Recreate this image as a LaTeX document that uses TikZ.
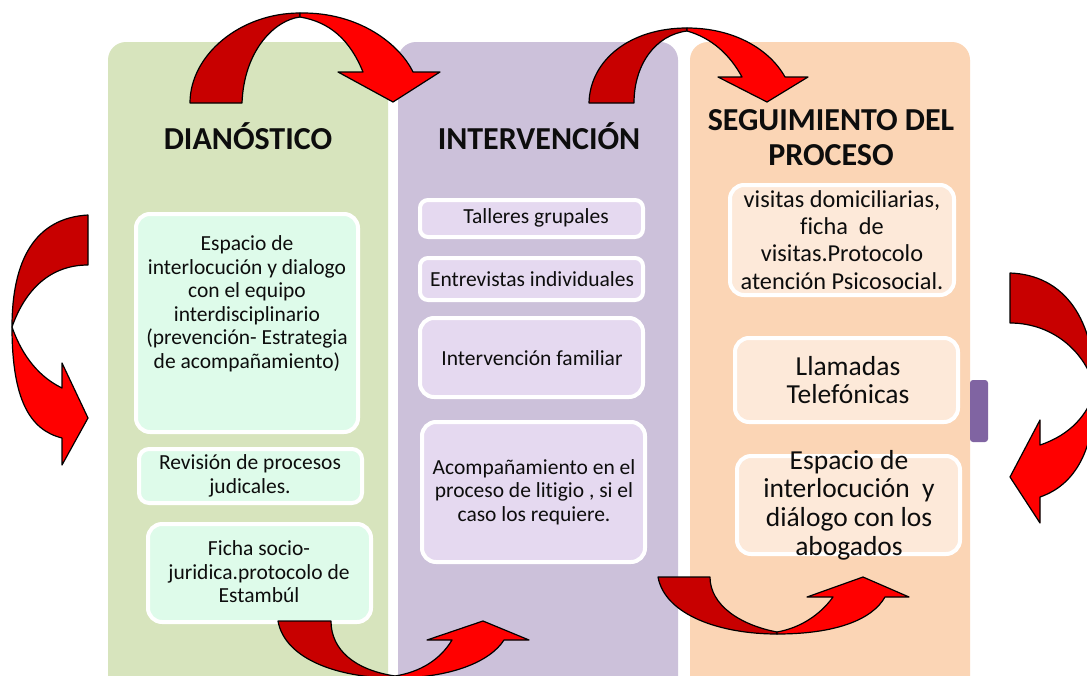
\documentclass[tikz,border=0pt]{standalone}
\usepackage{fontspec}
\setmainfont{Carlito}[Ligatures=NoCommon]
\definecolor{colgreen}{HTML}{D7E4BD}
\definecolor{colpurple}{HTML}{CCC1DA}
\definecolor{colorange}{HTML}{FBD5B5}
\definecolor{boxgreen}{HTML}{DEFBEA}
\definecolor{boxpurple}{HTML}{E5D9F0}
\definecolor{boxorange}{HTML}{FDE9D9}
\definecolor{tabpurple}{HTML}{8064A2}
\definecolor{arrowdark}{HTML}{C80000}
\definecolor{arrowbright}{HTML}{FF0000}
\definecolor{txtcol}{HTML}{0D0D0D}
\begin{document}
\begin{tikzpicture}[x=1pt,y=-1pt,
  colbox/.style={rounded corners=18pt, minimum width=280pt, minimum height=700pt, inner sep=0pt, draw=none},
  itembox/.style={draw=white, line width=4pt, rounded corners=14pt, inner sep=0pt},
  smallbox/.style={itembox, rounded corners=8pt},
  txt/.style={align=center, font=\fontsize{21.5}{23.5}\selectfont, text=txtcol, inner sep=0pt},
  rtxt/.style={align=center, font=\fontsize{24.3}{27.3}\selectfont, text=txtcol, inner sep=0pt},
  btxt/.style={align=center, font=\fontsize{27.5}{28.7}\selectfont, text=txtcol, inner sep=0pt},
  head/.style={align=center, font=\bfseries\fontsize{32}{35}\selectfont, text=txtcol, inner sep=0pt},
  darkpart/.style={fill=arrowdark, draw=black, line width=1.2pt, line join=round},
  brightpart/.style={fill=arrowbright, draw=black, line width=1.2pt, line join=round}]
\useasboundingbox (0,0) rectangle (1087,675);
\clip (0,0) rectangle (1087,675);
\fill[white] (0,0) rectangle (1087,675);

% columns
\node[colbox, fill=colgreen] (cg) at (248,392) {};
\node[colbox, fill=colpurple] (cp) at (538,392) {};
\node[colbox, fill=colorange] (co) at (830,392) {};
\node[fill=tabpurple, rounded corners=3pt, minimum width=18pt, minimum height=62pt, inner sep=0pt] (tab) at (979,411) {};

% headings
\node[head] (h1) at (248,136) {DIANÓSTICO};
\node[head] (h2) at (539,136) {INTERVENCIÓN};
\node[head] (h3) at (831,138) {SEGUIMIENTO DEL\\PROCESO};

% left column boxes
\node[itembox, fill=boxgreen, minimum width=222pt, minimum height=218pt] (b1) at (247,323) {};
\node[txt] (t1) at (247,304) {Espacio de\\interlocución y dialogo\\con el equipo\\interdisciplinario\\(prevención- Estrategia\\de acompañamiento)};
\node[itembox, fill=boxgreen, rounded corners=10pt, minimum width=223pt, minimum height=54pt] (b2) at (250.5,476) {};
\node[txt] (t2) at (250,476) {Revisión de procesos\\judicales.};
\node[itembox, fill=boxgreen, minimum width=223pt, minimum height=98pt] (b3) at (259.5,573) {};
\node[txt] (t3) at (259,572) {Ficha socio-\\juridica.protocolo de\\Estambúl};

% middle column boxes
\node[smallbox, fill=boxpurple, minimum width=223pt, minimum height=37pt] (m1) at (531.5,218.5) {};
\node[txt] (u1) at (536,218) {Talleres grupales};
\node[smallbox, fill=boxpurple, minimum width=223pt, minimum height=42pt] (m2) at (531.5,279) {};
\node[txt] (u2) at (532,279) {Entrevistas individuales};
\node[itembox, fill=boxpurple, minimum width=223pt, minimum height=79pt] (m3) at (531.5,357.5) {};
\node[txt] (u3) at (532,358) {Intervención familiar};
\node[itembox, fill=boxpurple, minimum width=223pt, minimum height=140pt] (m4) at (533.5,492) {};
\node[txt] (u4) at (534,492) {Acompañamiento en el\\proceso de litigio , si el\\caso los requiere.};

% right column boxes
\node[itembox, fill=boxorange, minimum width=224pt, minimum height=110pt] (r1) at (842,240) {};
\node[rtxt] (v1) at (842,240) {visitas domiciliarias,\\ficha\ \ de\\visitas.Protocolo\\atención Psicosocial.};
\node[itembox, fill=boxorange, minimum width=223pt, minimum height=84pt] (r2) at (846.5,380) {};
\node[btxt] (v2) at (848,380) {Llamadas\\Telefónicas};
\node[itembox, fill=boxorange, minimum width=223pt, minimum height=98pt] (r3) at (848.5,505) {};
\node[btxt] (v3) at (849,505) {Espacio de\\interlocución\ \ y\\diálogo con los\\abogados};

% arrow 1 (top left)
\path[darkpart] (190,103) .. controls (190,55) and (240,13) .. (300,13) -- (300,17) .. controls (275,20) and (244,50) .. (242,103) -- cycle;
\path[brightpart] (300,13) .. controls (360,12) and (400,45) .. (413,72) -- (440,72) -- (393,102) -- (338,72) -- (363,72) .. controls (350,40) and (330,22) .. (300,17) -- cycle;
% arrow 2 (top middle)
\path[darkpart] (589,103) .. controls (590,60) and (630,28) .. (687,28) -- (687,31) .. controls (655,35) and (634,65) .. (634,103) -- cycle;
\path[brightpart] (687,28) .. controls (735,28) and (770,50) .. (785,77) -- (808,77) -- (767,102) -- (718,77) -- (742,77) .. controls (730,55) and (712,38) .. (687,31) -- cycle;
% arrow 3 (left)
\path[darkpart] (88,215) .. controls (35,218) and (12,260) .. (12,327) .. controls (25,290) and (50,265) .. (88,265) -- cycle;
\path[brightpart] (12,327) .. controls (12,400) and (30,430) .. (62,438) -- (62,465) -- (88,418) -- (62,363) -- (62,388) .. controls (35,375) and (20,350) .. (12,327) -- cycle;
% arrow 4 (right)
\path[darkpart] (1010,273) .. controls (1065,275) and (1095,320) .. (1095,390) .. controls (1088,355) and (1055,323) .. (1010,323) -- cycle;
\path[brightpart] (1095,390) .. controls (1095,450) and (1075,485) .. (1040,497) -- (1040,523) -- (1010,477) -- (1040,420) -- (1040,445) .. controls (1070,435) and (1088,415) .. (1095,390) -- cycle;
% arrow 5 (bottom left)
\path[darkpart] (278,621) .. controls (285,660) and (340,678) .. (395,678) -- (395,676) .. controls (355,670) and (331,650) .. (331,621) -- cycle;
\path[brightpart] (395,678) .. controls (450,678) and (490,662) .. (504,640) -- (529,640) -- (483,621) -- (427,640) -- (452,640) .. controls (440,660) and (420,672) .. (395,676) -- cycle;
% arrow 6 (bottom right)
\path[darkpart] (658,577) .. controls (665,615) and (720,634) .. (777,634) -- (777,632) .. controls (740,625) and (710,605) .. (710,577) -- cycle;
\path[brightpart] (777,634) .. controls (835,634) and (872,620) .. (885,597) -- (909,597) -- (863,577) -- (807,597) -- (833,597) .. controls (820,615) and (800,628) .. (777,632) -- cycle;
\end{tikzpicture}
\end{document}
